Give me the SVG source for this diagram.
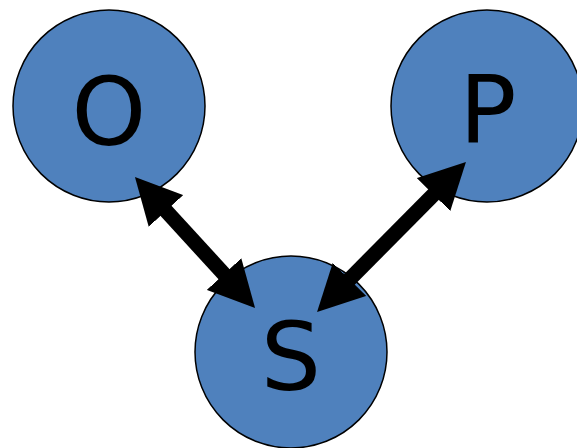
<svg xmlns="http://www.w3.org/2000/svg" width="577" height="448" viewBox="0 0 577 448">
  <style>
    .node circle { fill: #4f81bd; stroke: #000; stroke-width: 1.5; }
    .node text { font-family: "DejaVu Sans", sans-serif; font-size: 95px; fill: #000; text-anchor: middle; }
    .edge { stroke: #000; stroke-width: 15; fill: none; marker-start: url(#head); marker-end: url(#head); }
  </style>
  <defs>
    <marker id="head" viewBox="0 -23.5 46 47" refX="11" refY="0" markerWidth="46" markerHeight="47" markerUnits="userSpaceOnUse" orient="auto-start-reverse">
      <path d="M0,-23.5 L46,0 L0,23.5 z" fill="#000"/>
    </marker>
  </defs>
  <rect width="577" height="448" fill="#fff"/>
  <g id="node-O" class="node">
    <circle cx="109" cy="106" r="96"/>
    <text x="109" y="145">O</text>
  </g>
  <g id="node-P" class="node">
    <circle cx="487" cy="106" r="96"/>
    <text x="488" y="143">P</text>
  </g>
  <g id="node-S" class="node">
    <circle cx="291" cy="352" r="96"/>
    <text x="291" y="390">S</text>
  </g>
  <g id="connectors">
    <line class="edge" x1="158.6" y1="202.8" x2="231.4" y2="282.2"/>
    <line class="edge" x1="441.3" y1="186.8" x2="341.7" y2="287.2"/>
  </g>
</svg>
